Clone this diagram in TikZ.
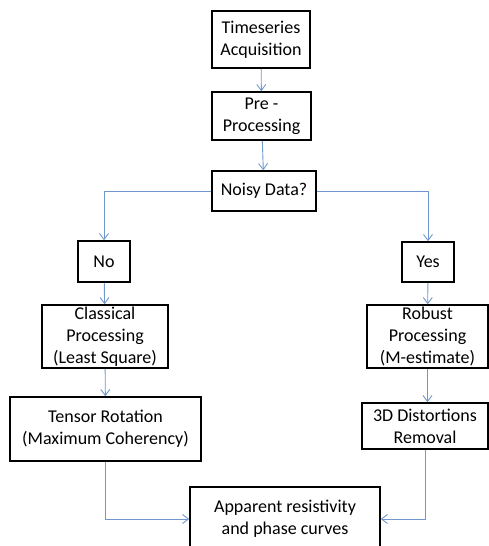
\documentclass[tikz,border=0pt]{standalone}
\usepackage{fontspec}
\setmainfont{Carlito}
\usetikzlibrary{arrows.meta}
\definecolor{linkblue}{RGB}{112,152,206}
\begin{document}
\begin{tikzpicture}[x=1pt,y=-1pt,font=\fontsize{18}{22}\selectfont,
  box/.style={draw,line width=1.6pt,align=center,inner sep=0pt},
  link/.style={linkblue,line width=0.9pt,-{Straight Barb[length=6pt,width=9pt]}}]
\useasboundingbox (0,0) rectangle (489,546);
% main column
\node[box,minimum width=98,minimum height=57] (acq) at (261,39.5) {Timeseries\\Acquisition};
\node[box,minimum width=99,minimum height=48] (pre) at (261.5,116) {Pre -\\Processing};
\node[box,minimum width=104,minimum height=40] (noisy) at (264,191) {Noisy Data?};
% the two branches
\node[box,minimum width=52,minimum height=41] (no) at (104,261.5) {No};
\node[box,minimum width=52,minimum height=40] (yes) at (428,262) {Yes};
\node[box,minimum width=126,minimum height=63] (classic) at (105,336.5) {Classical\\Processing\\(Least Square)};
\node[box,minimum width=121,minimum height=63] (robust) at (427.5,336.5) {Robust\\Processing\\(M-estimate)};
\node[box,minimum width=191,minimum height=64] (tensor) at (105.5,429) {Tensor Rotation\\(Maximum Coherency)};
\node[box,minimum width=126,minimum height=46] (distort) at (425,426) {3D Distortions\\Removal};
\node[box,minimum width=190,minimum height=64] (app) at (285,519) {Apparent resistivity\\and phase curves};
% connectors
\draw[link] (acq) -- (pre);
\draw[link] (pre) -- (noisy);
\draw[link] (noisy.west) -| (no.north);
\draw[link] (noisy.east) -| (yes.north);
\draw[link] (no) -- (classic);
\draw[link] (yes) -- (robust);
\draw[link] (classic) -- (tensor);
\draw[link] (robust.south) -- (robust.south |- distort.north);
\draw[link] (tensor.south) |- (app.west);
\draw[link] (distort.south) |- (app.east);
\end{tikzpicture}
\end{document}
